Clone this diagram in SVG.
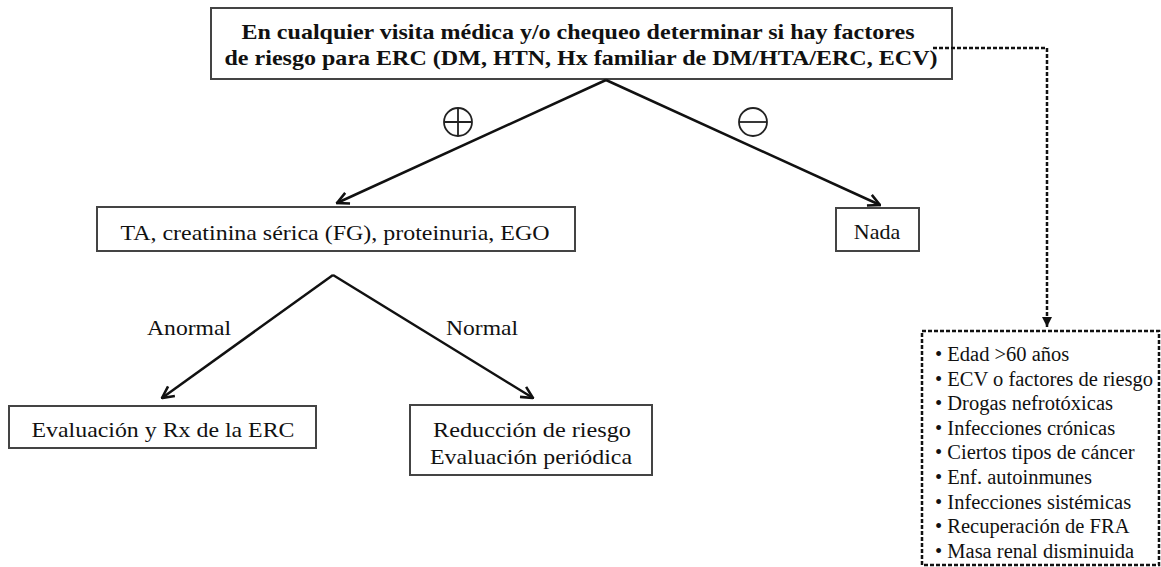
<svg xmlns="http://www.w3.org/2000/svg" width="1161" height="567" viewBox="0 0 1161 567">
<defs>
<marker id="ah" viewBox="0 0 12 12" refX="11" refY="6" markerWidth="14" markerHeight="14" orient="auto" markerUnits="userSpaceOnUse">
<path d="M1,1 L11,6 L1,11" fill="none" stroke="#111" stroke-width="2.2"/>
</marker>
<marker id="ahd" viewBox="0 0 10 10" refX="10" refY="5" markerWidth="10" markerHeight="10" orient="auto" markerUnits="userSpaceOnUse">
<path d="M0,0 L10,5 L0,10 Z" fill="#111"/>
</marker>
<style>
.box{fill:#fff;stroke:#444;stroke-width:2}
.dbox{fill:#fff;stroke:#111;stroke-width:2.5;stroke-dasharray:4,2}
.t{font-family:"Liberation Serif","Times New Roman",serif;fill:#111;text-anchor:middle}
.b{font-weight:bold}
.li{font-family:"Liberation Serif","Times New Roman",serif;fill:#111;font-size:20.5px}
.c{fill:none;stroke:#111;stroke-width:2.5}
.cd{fill:none;stroke:#111;stroke-width:2.5;stroke-dasharray:4,2}
.sym{fill:none;stroke:#222;stroke-width:1.8}
</style>
</defs>
<rect width="1161" height="567" fill="#fff"/>
<g id="top">
<rect class="box" x="211" y="8" width="741" height="71"/>
<text class="t b" x="578" y="39" font-size="21" textLength="673" lengthAdjust="spacingAndGlyphs">En cualquier visita médica y/o chequeo determinar si hay factores</text>
<text class="t b" x="581" y="65" font-size="21" textLength="713" lengthAdjust="spacingAndGlyphs">de riesgo para ERC (DM, HTN, Hx familiar de DM/HTA/ERC, ECV)</text>
</g>
<g id="tests">
<rect class="box" x="97" y="207" width="478" height="44"/>
<text class="t" x="335" y="240" font-size="22" textLength="429" lengthAdjust="spacingAndGlyphs">TA, creatinina sérica (FG), proteinuria, EGO</text>
</g>
<g id="nada">
<rect class="box" x="836" y="208" width="83" height="43"/>
<text class="t" x="877" y="239" font-size="22">Nada</text>
</g>
<g id="eval">
<rect class="box" x="9" y="406" width="307" height="42"/>
<text class="t" x="163" y="437" font-size="22" textLength="263" lengthAdjust="spacingAndGlyphs">Evaluación y Rx de la ERC</text>
</g>
<g id="reduccion">
<rect class="box" x="410" y="405" width="242" height="70"/>
<text class="t" x="532" y="437" font-size="22" textLength="198" lengthAdjust="spacingAndGlyphs">Reducción de riesgo</text>
<text class="t" x="531" y="464" font-size="22" textLength="202" lengthAdjust="spacingAndGlyphs">Evaluación periódica</text>
</g>
<g id="factores">
<rect class="dbox" x="922" y="331" width="237" height="234"/>
<text class="li" x="935" y="361">• Edad &gt;60 años</text>
<text class="li" x="935" y="386">• ECV o factores de riesgo</text>
<text class="li" x="935" y="410">• Drogas nefrotóxicas</text>
<text class="li" x="935" y="435">• Infecciones crónicas</text>
<text class="li" x="935" y="459">• Ciertos tipos de cáncer</text>
<text class="li" x="935" y="484">• Enf. autoinmunes</text>
<text class="li" x="935" y="509">• Infecciones sistémicas</text>
<text class="li" x="935" y="533">• Recuperación de FRA</text>
<text class="li" x="935" y="558">• Masa renal disminuida</text>
</g>
<g id="connectors">
<line class="c" x1="606" y1="80" x2="337" y2="203" marker-end="url(#ah)"/>
<line class="c" x1="606" y1="80" x2="880" y2="205" marker-end="url(#ah)"/>
<line class="c" x1="333" y1="275" x2="162" y2="398" marker-end="url(#ah)"/>
<line class="c" x1="333" y1="275" x2="533" y2="398" marker-end="url(#ah)"/>
<path class="cd" d="M933,48 H1047 V327" marker-end="url(#ahd)"/>
<g id="plus"><circle class="sym" cx="458" cy="122" r="14"/><path class="sym" d="M444,122 H472 M458,108 V136"/></g>
<g id="minus"><circle class="sym" cx="753" cy="122" r="14"/><path class="sym" d="M739,122 H767"/></g>
<text class="t" x="189" y="335" font-size="22" textLength="84" lengthAdjust="spacingAndGlyphs">Anormal</text>
<text class="t" x="482" y="335" font-size="22" textLength="72" lengthAdjust="spacingAndGlyphs">Normal</text>
</g>
</svg>
